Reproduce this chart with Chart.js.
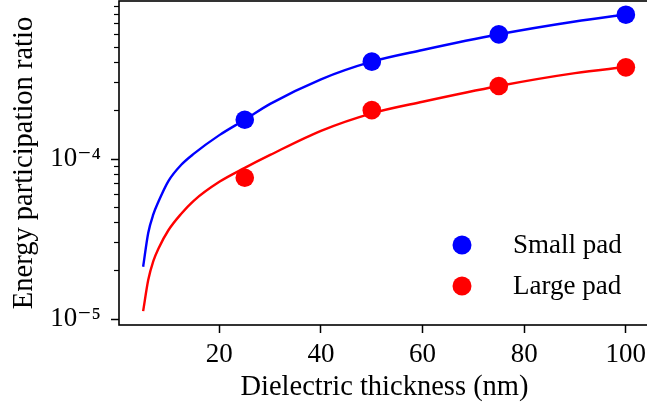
<!DOCTYPE html>
<html>
<head>
<meta charset="utf-8">
<script src="https://cdn.jsdelivr.net/npm/chart.js@4.4.0/dist/chart.umd.min.js"></script>
<style>
  html, body { margin: 0; padding: 0; background: #fff; overflow: hidden; }
  canvas { display: block; }
</style>
</head>
<body>
<canvas id="eprChart" width="651" height="414"></canvas>
<script>
// measured points
const thickness = [25, 50, 75, 100];
const smallPad = [1.76e-4, 4.06e-4, 6.01e-4, 7.98e-4];
const largePad = [7.64e-5, 2.02e-4, 2.86e-4, 3.74e-4];

// fitted curves
const fitThickness = [5, 6, 7, 8, 10, 12.5, 15, 20, 25, 30, 40, 50, 60, 75, 90, 100];
const smallPadFit = [2.12e-5, 3.45e-5, 4.5e-5, 5.4e-5, 7.3e-5, 9.2e-5, 1.08e-4, 1.41e-4, 1.76e-4, 2.21e-4, 3.15e-4, 4.06e-4, 4.8e-4, 6.02e-4, 7.24e-4, 8.0e-4];
const largePadFit = [1.12e-5, 1.75e-5, 2.3e-5, 2.75e-5, 3.6e-5, 4.55e-5, 5.5e-5, 7.2e-5, 8.8e-5, 1.06e-4, 1.5e-4, 1.93e-4, 2.28e-4, 2.86e-4, 3.44e-4, 3.76e-4];

const xTicks = [20, 40, 60, 80, 100];
const yMajorTicks = [1e-5, 1e-4];
const yMinorTicks = [2e-5, 3e-5, 4e-5, 5e-5, 6e-5, 7e-5, 8e-5, 9e-5, 2e-4, 3e-4, 4e-4, 5e-4, 6e-4, 7e-4, 8e-4, 9e-4];
const yLabels = { "0.00001": "10\u207B\u2075", "0.0001": "10\u207B\u2074" };

const serif = "'Liberation Serif', 'DejaVu Serif', serif";

function toXY(xs, ys) {
  return xs.map((x, i) => ({ x: x, y: ys[i] }));
}

// keep the plot area where the reference has it
function noPad(scale) {
  scale.paddingTop = 0;
  scale.paddingBottom = 0;
  scale.paddingLeft = 0;
  scale.paddingRight = 0;
}

// black frame round the plot area
const framePlugin = {
  id: "frame",
  afterDraw(chart) {
    const a = chart.chartArea;
    const ctx = chart.ctx;
    ctx.save();
    ctx.strokeStyle = "#000";
    ctx.lineWidth = 1.6;
    ctx.strokeRect(a.left, a.top, a.right - a.left, a.bottom - a.top);
    ctx.restore();
  }
};

// matplotlib style legend, lower right, markers only
const legendPlugin = {
  id: "padLegend",
  afterDraw(chart) {
    const ctx = chart.ctx;
    const a = chart.chartArea;
    const items = chart.data.datasets.filter(d => d.showInLegend);
    ctx.save();
    ctx.font = "27px " + serif;
    ctx.textBaseline = "middle";
    items.forEach((d, i) => {
      const y = a.bottom - 80 + i * 41;
      ctx.fillStyle = d.backgroundColor;
      ctx.beginPath();
      ctx.arc(462, y, 9.5, 0, Math.PI * 2);
      ctx.fill();
      ctx.fillStyle = "#000";
      ctx.fillText(d.label, 513, y + 1);
    });
    ctx.restore();
  }
};

new Chart(document.getElementById("eprChart"), {
  type: "scatter",
  data: {
    datasets: [
      {
        label: "Small pad fit",
        type: "line",
        data: toXY(fitThickness, smallPadFit),
        borderColor: "#0000ff",
        borderWidth: 2.4,
        pointRadius: 0,
        cubicInterpolationMode: "monotone",
        fill: false
      },
      {
        label: "Large pad fit",
        type: "line",
        data: toXY(fitThickness, largePadFit),
        borderColor: "#ff0000",
        borderWidth: 2.4,
        pointRadius: 0,
        cubicInterpolationMode: "monotone",
        fill: false
      },
      {
        label: "Small pad",
        showInLegend: true,
        data: toXY(thickness, smallPad),
        backgroundColor: "#0000ff",
        borderWidth: 0,
        pointRadius: 9.3
      },
      {
        label: "Large pad",
        showInLegend: true,
        data: toXY(thickness, largePad),
        backgroundColor: "#ff0000",
        borderWidth: 0,
        pointRadius: 9.3
      }
    ]
  },
  options: {
    responsive: false,
    animation: false,
    layout: { autoPadding: false, padding: { top: 1, right: 1, left: 0, bottom: 0 } },
    plugins: {
      legend: { display: false },
      tooltip: { enabled: false }
    },
    scales: {
      x: {
        type: "linear",
        min: 0.25,
        max: 104.75,
        afterFit(scale) { scale.height = 89; noPad(scale); },
        afterBuildTicks(scale) { scale.ticks = xTicks.map(v => ({ value: v })); },
        grid: { drawOnChartArea: false, tickLength: 8, tickWidth: 1.5, color: "#000" },
        border: { display: false },
        ticks: { color: "#000", font: { family: serif, size: 27 }, padding: 6, maxRotation: 0 },
        title: {
          display: true,
          text: "Dielectric thickness (nm)",
          color: "#000",
          font: { family: serif, size: 28.5 },
          padding: { top: 4, bottom: 9 }
        }
      },
      y: {
        type: "logarithmic",
        position: "left",
        weight: 1,
        min: Math.pow(10, -5.0375),
        max: Math.pow(10, -3.0125),
        afterFit(scale) { scale.width = 119; noPad(scale); },
        afterBuildTicks(scale) { scale.ticks = yMajorTicks.map(v => ({ value: v })); },
        grid: { drawOnChartArea: false, tickLength: 8, tickWidth: 1.5, color: "#000" },
        border: { display: false },
        ticks: {
          color: "#000",
          font: { family: serif, size: 27 },
          padding: 10,
          callback: v => yLabels[String(v)] || ""
        },
        title: {
          display: true,
          text: "Energy participation ratio",
          color: "#000",
          font: { family: serif, size: 28.5 },
          padding: { top: 7, bottom: 0 }
        }
      },
      yMinor: {
        type: "logarithmic",
        position: "left",
        weight: 0,
        min: Math.pow(10, -5.0375),
        max: Math.pow(10, -3.0125),
        afterFit(scale) { scale.width = 0; noPad(scale); },
        afterBuildTicks(scale) { scale.ticks = yMinorTicks.map(v => ({ value: v })); },
        grid: { drawOnChartArea: false, tickLength: 5, tickWidth: 1.2, color: "#000" },
        border: { display: false },
        ticks: { display: false }
      }
    }
  },
  plugins: [framePlugin, legendPlugin]
});
</script>
</body>
</html>
